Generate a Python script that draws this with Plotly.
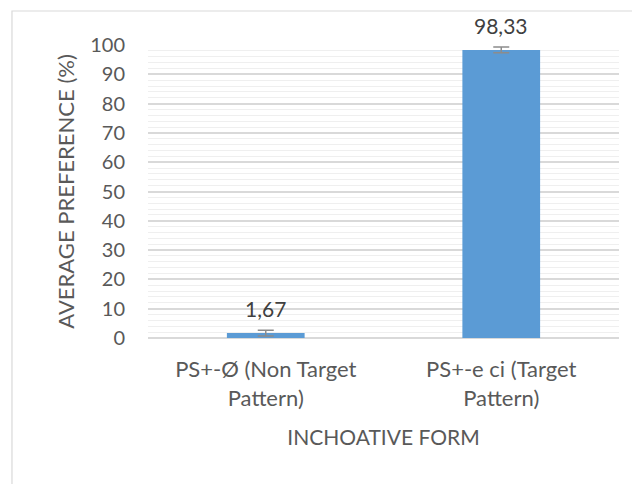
import plotly.graph_objects as go

categories = ["PS+-Ø (Non Target<br>Pattern)", "PS+-e ci (Target<br>Pattern)"]
values = [1.67, 98.33]
errors = [1.0, 1.0]
y_ticks = list(range(0, 101, 10))
x_title = "INCHOATIVE FORM"
y_title = "AVERAGE PREFERENCE (%)"

FONT = "Lato"
GRAY = "#595959"

fig = go.Figure()
fig.add_trace(go.Bar(
    x=categories, y=values,
    marker=dict(color="#5b9bd5", line=dict(width=0)),
    error_y=dict(type="data", array=errors, visible=True, color="#8c8c8c",
                 thickness=1.5, width=8),
    width=0.33,
))

for c, v, e in zip(categories, values, errors):
    fig.add_annotation(x=c, y=v + e, text=f"{v:.2f}".replace(".", ","),
                       showarrow=False, yanchor="bottom", yshift=7,
                       font=dict(family=FONT, size=21, color="#404040"))

# outer chart border
fig.add_shape(type="rect", xref="paper", yref="paper",
              x0=-0.2888, y0=-0.7, x1=1.2, y1=1.116,
              line=dict(color="#d9d9d9", width=1.2), layer="below")

fig.update_layout(
    width=632, height=476,
    margin=dict(l=140, r=21, t=37, b=146),
    paper_bgcolor="white", plot_bgcolor="white",
    font=dict(family=FONT, size=20, color=GRAY),
    showlegend=False,
    bargap=0.67,
)
fig.update_xaxes(
    title=dict(text=x_title, font=dict(family=FONT, size=21, color=GRAY), standoff=20),
    showline=False, showgrid=False, tickfont=dict(size=22, color=GRAY),
    ticks="", automargin=False, ticklabelstandoff=16,
)
fig.update_yaxes(
    range=[0, 100], tickvals=y_ticks, showline=False,
    gridcolor="#d9d9d9", gridwidth=1.5,
    minor=dict(dtick=2, showgrid=True, gridcolor="#efefef", gridwidth=1.2),
    zeroline=True, zerolinecolor="#d9d9d9", zerolinewidth=1.5,
    tickfont=dict(size=20, color=GRAY), ticklabelstandoff=22,
    title=dict(text=y_title, font=dict(family=FONT, size=22, color=GRAY), standoff=9),
    automargin=False,
)

fig.write_html("out.html")
